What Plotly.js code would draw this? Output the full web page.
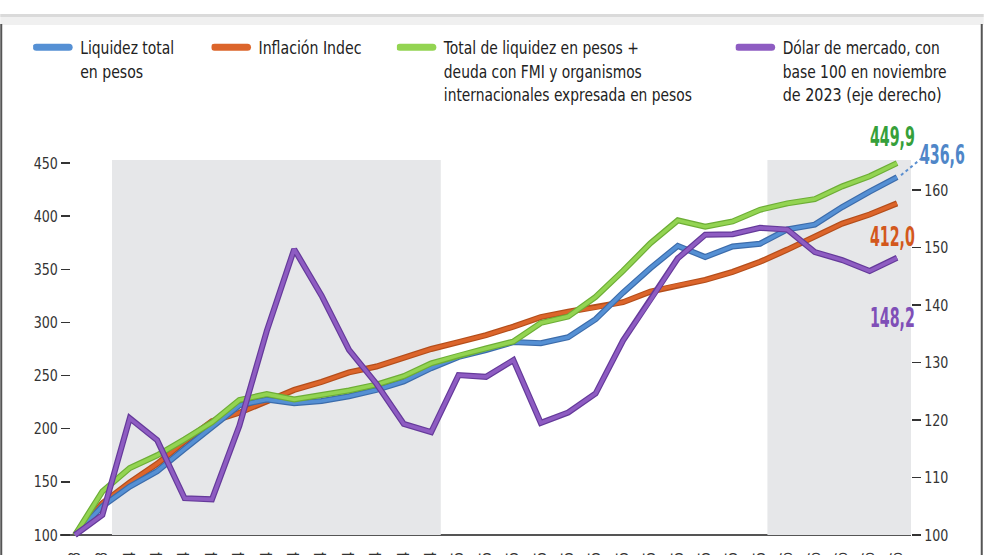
<!DOCTYPE html>
<html>
<head>
<meta charset="utf-8">
<script src="https://cdn.plot.ly/plotly-3.0.1.min.js"></script>
<style>
  html, body { margin: 0; padding: 0; background: #fff; }
  #chart { width: 987px; height: 555px; }
</style>
</head>
<body>
<div id="chart"></div>
<script>
// months, base 100 = nov-23
const months = [
  'nov-23', 'dic-23',
  'ene-24', 'feb-24', 'mar-24', 'abr-24', 'may-24', 'jun-24', 'jul-24', 'ago-24', 'sep-24', 'oct-24', 'nov-24', 'dic-24',
  'ene-25', 'feb-25', 'mar-25', 'abr-25', 'may-25', 'jun-25', 'jul-25', 'ago-25', 'sep-25', 'oct-25', 'nov-25', 'dic-25',
  'ene-26', 'feb-26', 'mar-26', 'abr-26', 'may-26'
];

const liquidez = [100, 127, 145.5, 160, 181, 202, 222, 227.5, 224, 226, 230.5, 236.5, 244.5, 257, 267.5, 274,
  281.5, 280.5, 286, 303, 328, 351, 372, 361.5, 371.5, 374, 387.5, 392, 408.5, 423, 436.6];
const inflacion = [100, 130, 149.5, 167, 188, 207, 215, 225.5, 236.5, 244, 253, 258.5, 267, 275, 281.5, 288,
  296, 305, 310, 314, 319, 329, 335, 340, 347.5, 357, 368.5, 381, 393, 401.5, 412.0];
const liquidezDeuda = [100, 141, 163, 175, 190, 206, 227, 232.5, 227.5, 231.5, 236, 241.5, 249.5, 261.5, 269, 275.5,
  282, 299.5, 305.5, 324, 348.5, 374.5, 396, 390, 395, 406, 412, 416, 428, 437.5, 449.9];
const dolar = [100, 103.5, 120.3, 116.5, 106.4, 106.2, 119, 135.5, 149.7, 141.6, 132.2, 126.3, 119.3, 117.9, 127.8, 127.5,
  130.4, 119.5, 121.3, 124.6, 133.8, 140.8, 148.1, 152.2, 152.3, 153.4, 153.1, 149.2, 147.8, 145.9, 148.2];

const leftTicks = [100, 150, 200, 250, 300, 350, 400, 450];
const rightTicks = [100, 110, 120, 130, 140, 150, 160];

const FONT = '"DejaVu Sans Condensed", "Liberation Sans Narrow", sans-serif';
const idx = months.map((m, i) => i);
const last = months.length - 1;

const W = 987, H = 555;
const M = { l: 71, r: 73, t: 160, b: 15 };
const xr = [-0.145, 30.51];
const yr = [95.3, 452.8];
const y2r = [99.13, 165.2];

// pixel -> paper helpers for decorations
const pw = W - M.l - M.r, ph = H - M.t - M.b;
const px2x = px => (px - M.l) / pw;
const py2y = py => (H - M.b - py) / ph;
const xToPaper = v => (v - xr[0]) / (xr[1] - xr[0]);
const yToPaper = v => (v - yr[0]) / (yr[1] - yr[0]);

function series(y, name, color, edge, legend, yaxis) {
  return [
    { x: idx, y: y, type: 'scatter', mode: 'lines', yaxis: yaxis, showlegend: false, hoverinfo: 'skip',
      line: { color: edge, width: 6 } },
    { x: idx, y: y, type: 'scatter', mode: 'lines', yaxis: yaxis, name: name, legend: legend,
      line: { color: color, width: 3.6 } }
  ];
}

const traces = [].concat(
  series(inflacion, 'Inflación Indec', '#dc652b', '#b44e1b', 'legend2', 'y'),
  series(liquidez, 'Liquidez total<br>en pesos', '#5590d4', '#3c6cab', 'legend', 'y'),
  series(liquidezDeuda, 'Total de liquidez en pesos +<br>deuda con FMI y organismos<br>internacionales expresada en pesos', '#93d452', '#6dae36', 'legend3', 'y'),
  series(dolar, 'Dólar de mercado, con<br>base 100 en noviembre<br>de 2023 (eje derecho)', '#8e5cc2', '#653a9a', 'legend4', 'y2')
);

const legendBase = {
  orientation: 'v', yanchor: 'top', xanchor: 'left', y: py2y(29),
  bgcolor: 'rgba(0,0,0,0)', borderwidth: 0, valign: 'top', itemwidth: 37,
  font: { family: FONT, size: 18, color: '#222' }
};

const shapes = [
  // shaded years
  { type: 'rect', xref: 'x', yref: 'y', x0: 1.35, x1: 13.35, y0: 100, y1: yr[1],
    fillcolor: '#e6e7e9', line: { width: 0 }, layer: 'below' },
  { type: 'rect', xref: 'x', yref: 'y', x0: 25.27, x1: xr[1], y0: 100, y1: yr[1],
    fillcolor: '#e6e7e9', line: { width: 0 }, layer: 'below' },
  // base line
  { type: 'line', xref: 'paper', yref: 'y', x0: px2x(60), x1: 1, y0: 100, y1: 100,
    line: { color: '#555', width: 2 }, layer: 'below' },
  // dotted leader to the blue label
  { type: 'line', xref: 'paper', yref: 'paper',
    x0: xToPaper(last) + 4 / pw, x1: xToPaper(last) + 26 / pw,
    y0: yToPaper(liquidez[last]) + 2 / ph, y1: yToPaper(liquidez[last]) + 20 / ph,
    line: { color: '#5a8fd0', width: 2, dash: 'dot' } },
  // header shadow
  { type: 'rect', xref: 'paper', yref: 'paper', x0: px2x(0), x1: px2x(W), y0: py2y(14), y1: py2y(17),
    fillcolor: '#dadada', line: { width: 0 } },
  { type: 'rect', xref: 'paper', yref: 'paper', x0: px2x(0), x1: px2x(W), y0: py2y(17), y1: py2y(25),
    fillcolor: '#f0f0f0', line: { width: 0 } },
  // frame sides
  { type: 'line', xref: 'paper', yref: 'paper', x0: px2x(1), x1: px2x(1), y0: py2y(24), y1: py2y(H),
    line: { color: '#555', width: 2 } },
  { type: 'line', xref: 'paper', yref: 'paper', x0: px2x(985), x1: px2x(985), y0: py2y(24), y1: py2y(H),
    line: { color: '#555', width: 2 } }
];

function endLabel(v, yref, color, xshift, yshift) {
  return { x: last, y: v, xref: 'x', yref: yref, text: v.toFixed(1).replace('.', ','), showarrow: false,
    xshift: xshift, yshift: yshift,
    font: { family: FONT, size: 27, color: color, weight: 'bold' } };
}

const annotations = [
  endLabel(liquidezDeuda[last], 'y', '#36a03a', -5, 27),
  endLabel(liquidez[last], 'y', '#4f86c8', 45, 23),
  endLabel(inflacion[last], 'y', '#d3581c', -5, -33),
  endLabel(dolar[last], 'y2', '#7f4fb7', -5, -60)
];

const layout = {
  width: W, height: H,
  margin: M,
  paper_bgcolor: '#fff', plot_bgcolor: 'rgba(0,0,0,0)',
  font: { family: FONT, size: 16, color: '#333' },
  showlegend: true,
  legend: Object.assign({}, legendBase, { x: px2x(33) }),
  legend2: Object.assign({}, legendBase, { x: px2x(212) }),
  legend3: Object.assign({}, legendBase, { x: px2x(398) }),
  legend4: Object.assign({}, legendBase, { x: px2x(733) }),
  xaxis: {
    range: xr, tickvals: idx, ticktext: months, tickangle: -90,
    showgrid: false, zeroline: false, showline: false, ticks: '',
    ticklabelstandoff: 8, automargin: false,
    tickfont: { family: FONT, size: 15, color: '#333' }
  },
  yaxis: {
    range: yr, tickvals: leftTicks, ticks: 'outside', ticklen: 9, tickwidth: 1.5, tickcolor: '#333',
    showgrid: false, zeroline: false, showline: false, automargin: false,
    tickfont: { family: FONT, size: 16, color: '#333' }
  },
  yaxis2: {
    range: y2r, tickvals: rightTicks, overlaying: 'y', side: 'right',
    ticks: 'outside', ticklen: 9, tickwidth: 1.5, tickcolor: '#333',
    showgrid: false, zeroline: false, showline: false, automargin: false,
    tickfont: { family: FONT, size: 16, color: '#333' }
  },
  shapes: shapes,
  annotations: annotations
};

// widths of the legend lines in the original condensed typeface
const legendLineWidth = {
  'Liquidez total': 94, 'en pesos': 63, 'Inflación Indec': 103,
  'Total de liquidez en pesos +': 195, 'deuda con FMI y organismos': 198,
  'internacionales expresada en pesos': 248,
  'Dólar de mercado, con': 157, 'base 100 en noviembre': 164, 'de 2023 (eje derecho)': 159
};

function squeeze(el, width) {
  if (!width || el.getAttribute('data-sq')) return;
  el.setAttribute('data-sq', '1');
  el.setAttribute('lengthAdjust', 'spacingAndGlyphs');
  el.setAttribute('textLength', width);
}

function textLines(t) {
  const lines = t.querySelectorAll('tspan.line');
  return lines.length ? Array.from(lines) : [t];
}

// squeeze text horizontally (the original uses a condensed typeface)
function condense(selector, factor, fixedWidth) {
  document.querySelectorAll('#chart ' + selector).forEach(t => {
    textLines(t).forEach(el => {
      if (el.getAttribute('data-sq')) return;
      const w = el.getComputedTextLength();
      if (w) squeeze(el, fixedWidth ? fixedWidth : w * factor);
    });
  });
}

function finish() {
  // each legend names its text class after its id: legendtext, legend2text, ...
  document.querySelectorAll('#chart .legendtext, #chart .legend2text, #chart .legend3text, #chart .legend4text').forEach(t => {
    textLines(t).forEach(el => {
      const key = el.textContent.replace(/\u00a0/g, ' ').trim();
      let w = legendLineWidth[key];
      if (!w && !el.getAttribute('data-sq')) {
        const n = el.getComputedTextLength();
        if (n) w = n * 0.85;
      }
      squeeze(el, w);
    });
  });
  // nudge the right-hand legend (kept left so it does not push the margin)
  const g4 = document.querySelector('#chart .infolayer > .legend4');
  if (g4 && !g4.getAttribute('data-nudged')) {
    g4.setAttribute('data-nudged', '1');
    const m = (g4.getAttribute('transform') || '').match(/translate\(\s*([-\d.]+)[ ,]+([-\d.]+)\s*\)/);
    if (m) g4.setAttribute('transform', 'translate(' + (parseFloat(m[1]) + 5) + ',' + m[2] + ')');
  }
  // longer, thicker, rounded legend swatches
  document.querySelectorAll('#chart .legendlines path').forEach(p => {
    p.setAttribute('d', 'M3,0h33');
    p.style.strokeWidth = '7px';
    p.style.strokeLinecap = 'round';
  });
  condense('.ytick text', 0.88);
  condense('.y2tick text', 0.88);
  condense('.xtick text', 0.88);
  condense('.annotation-text', 0, 45);
}

Plotly.newPlot('chart', traces, layout, { staticPlot: true, displayModeBar: false }).then(() => {
  finish();
  setTimeout(finish, 100);
  setTimeout(finish, 400);
});
</script>
</body>
</html>
